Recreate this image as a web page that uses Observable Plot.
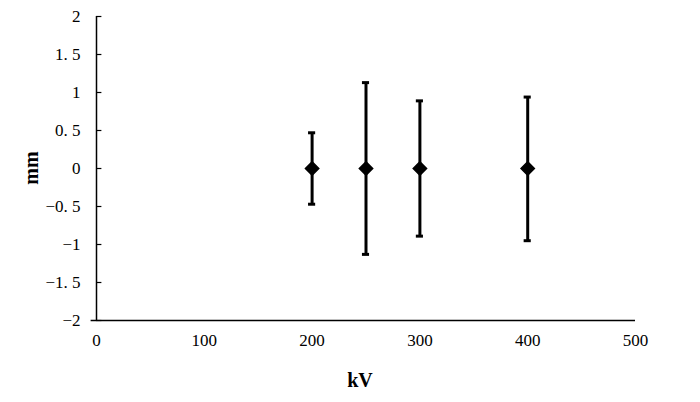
<!DOCTYPE html>
<html><head><meta charset="utf-8">
<script src="https://cdn.jsdelivr.net/npm/d3@7"></script>
<script src="https://cdn.jsdelivr.net/npm/@observablehq/plot@0.6"></script>
<style>body{margin:0;background:#fff} svg text{font-family:"Liberation Serif",serif !important;}</style>
</head><body><div id="chart"></div>
<script>
const kv = [200, 250, 300, 400];
const mean = [0, 0, 0, 0];
const errUp = [0.47, 1.13, 0.89, 0.94];
const errDown = [0.47, 1.13, 0.89, 0.95];
const xTicks = [0, 100, 200, 300, 400, 500];
const yTicks = [-2, -1.5, -1, -0.5, 0, 0.5, 1, 1.5, 2];
const yTickLabels = ["\u22122", "\u22121. 5", "\u22121", "\u22120. 5", "0", "0. 5", "1", "1. 5", "2"];

const data = kv.map((k, i) => ({kv: k, y: mean[i], lo: mean[i] - errDown[i], hi: mean[i] + errUp[i]}));
const capHalf = 3.3;

const plot = Plot.plot({
  width: 700, height: 402,
  marginLeft: 96, marginRight: 65, marginTop: 16, marginBottom: 82,
  style: {fontSize: "16px", color: "#000", background: "#fff"},
  x: {domain: [0, 500], ticks: xTicks, label: null},
  y: {domain: [-2, 2], ticks: yTicks, label: null},
  marks: [
    Plot.ruleX([0], {y1: -2, y2: 2, stroke: "#000", strokeWidth: 1.5}),
    Plot.ruleY([-2], {x1: -5, x2: 500, stroke: "#000", strokeWidth: 1.5}),
    Plot.ruleY(yTicks, {y: d => d, x1: 0, x2: 5, stroke: "#000", strokeWidth: 1.2}),
    Plot.text(yTicks, {x: 0, y: d => d, text: (d, i) => yTickLabels[i], textAnchor: "end", dx: -16, fontSize: 17}),
    Plot.text(xTicks, {x: d => d, y: -2, text: d => String(d), dy: 20, fontSize: 17}),
    Plot.ruleX(data, {x: "kv", y1: "lo", y2: "hi", stroke: "#000", strokeWidth: 3}),
    Plot.ruleY(data, {y: "hi", x1: d => d.kv - capHalf, x2: d => d.kv + capHalf, stroke: "#000", strokeWidth: 3}),
    Plot.ruleY(data, {y: "lo", x1: d => d.kv - capHalf, x2: d => d.kv + capHalf, stroke: "#000", strokeWidth: 3}),
    Plot.dot(data, {x: "kv", y: "y", symbol: "diamond2", fill: "#000", stroke: "#000", r: 6})
  ],
  axis: null
});
document.getElementById("chart").appendChild(plot);
const svg = d3.select(plot);
svg.append("text").attr("x", 360).attr("y", 387).attr("text-anchor", "middle")
  .attr("font-size", 20).attr("font-weight", "bold").text("kV");
svg.append("text").attr("transform", "translate(38,168) rotate(-90)").attr("text-anchor", "middle")
  .attr("font-size", 20).attr("font-weight", "bold").text("mm");
</script></body></html>
